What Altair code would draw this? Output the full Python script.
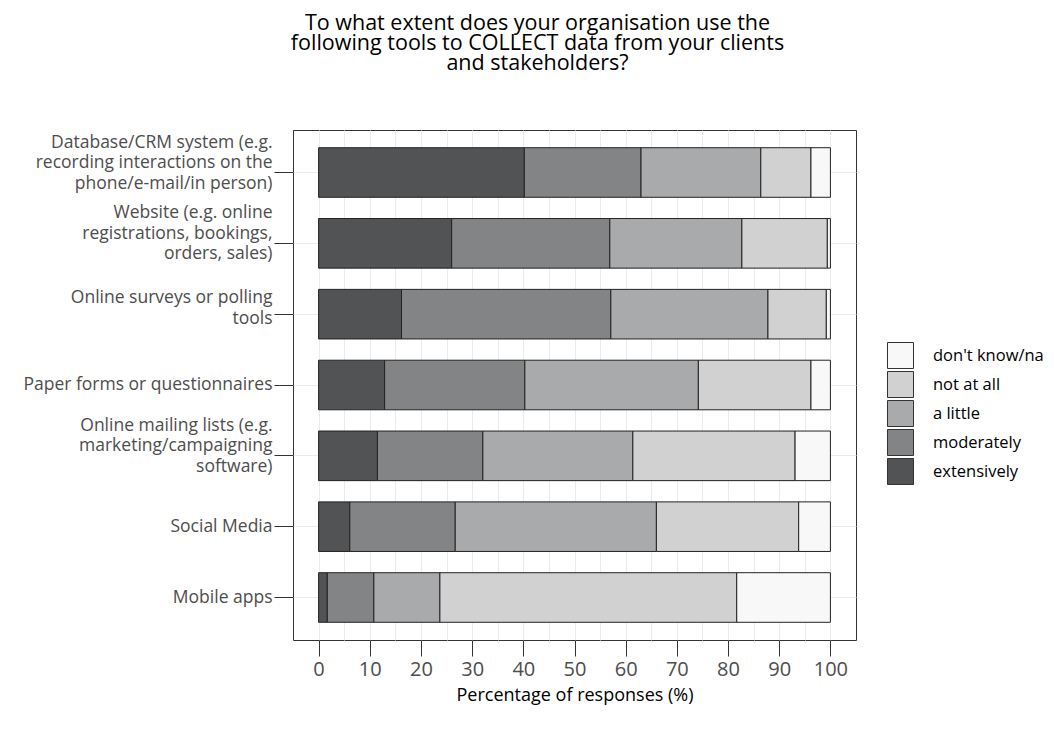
import altair as alt
import pandas as pd

categories = [
    "Database/CRM system (e.g.\nrecording interactions on the\nphone/e-mail/in person)",
    "Website (e.g. online\nregistrations, bookings,\norders, sales)",
    "Online surveys or polling\ntools",
    "Paper forms or questionnaires",
    "Online mailing lists (e.g.\nmarketing/campaigning\nsoftware)",
    "Social Media",
    "Mobile apps",
]
levels = ["extensively", "moderately", "a little", "not at all", "don't know/na"]
level_colors = ["#525355", "#838486", "#a9aaac", "#d1d1d1", "#f8f8f8"]

extensively = [40.2, 26.0, 16.2, 12.9, 11.5, 6.1, 1.7]
moderately = [22.8, 30.9, 40.9, 27.4, 20.6, 20.6, 9.1]
a_little = [23.4, 25.8, 30.7, 33.9, 29.3, 39.3, 12.9]
not_at_all = [9.8, 16.7, 11.4, 22.0, 31.7, 27.8, 58.0]
dont_know = [3.8, 0.6, 0.8, 3.8, 6.9, 6.2, 18.3]

x_ticks = list(range(0, 101, 5))

series = [extensively, moderately, a_little, not_at_all, dont_know]
rows = []
for li, (lvl, vals) in enumerate(zip(levels, series)):
    for c, v in zip(categories, vals):
        rows.append({"tool": c, "level": lvl, "value": v, "ord": li})
df = pd.DataFrame(rows)

FONT = "Open Sans"
LINE_H = 20.5

legend = alt.Legend(
    title=None, orient="none", legendX=594, legendY=212,
    symbolType="square", symbolSize=676, symbolStrokeColor="#333333",
    symbolStrokeWidth=1, symbolOpacity=1, labelFontSize=16.5, labelColor="#000000",
    labelFont=FONT, rowPadding=-4, labelOffset=19,
)

n_lines = "length(split(datum.label, '\\n'))"

chart = alt.Chart(df).mark_bar(stroke="#222222", strokeWidth=1, opacity=1).encode(
    x=alt.X(
        "value:Q", stack="zero",
        scale=alt.Scale(domain=[-5, 105], nice=False, zero=False),
        axis=alt.Axis(
            values=x_ticks,
            title="Percentage of responses (%)",
            titleFontSize=18, titleFontWeight="normal", titleColor="#000000",
            titleFont=FONT, titlePadding=7,
            labelFontSize=20, labelColor="#4d4d4d", labelPadding=3, labelFont=FONT,
            labelExpr="(datum.value % 10 === 0) ? datum.label : ''",
            tickOpacity={"condition": {"test": "datum.value % 10 !== 0", "value": 0}, "value": 1},
            tickColor="#333333", tickSize=16,
            grid=True, gridColor="#ebebeb", domain=False,
        ),
    ),
    y=alt.Y(
        "tool:N", sort=categories,
        scale=alt.Scale(paddingInner=0.3, paddingOuter=0.25),
        axis=alt.Axis(
            title=None, labelExpr="split(datum.label, '\\n')",
            labelFontSize=17.5, labelColor="#4d4d4d", labelLineHeight=LINE_H,
            labelOffset={
                "condition": [
                    {"test": n_lines + " === 3", "value": -30},
                    {"test": n_lines + " === 2", "value": -16},
                ],
                "value": 0,
            },
            labelFont=FONT, labelPadding=2, tickColor="#333333", tickSize=19,
            grid=True, gridColor="#ebebeb", domain=False, bandPosition=0.5,
            labelLimit=400,
        ),
    ),
    color=alt.Color(
        "level:N",
        scale=alt.Scale(domain=levels[::-1], range=level_colors[::-1]),
        legend=legend,
    ),
    order=alt.Order("ord:Q"),
).properties(
    width=563, height=510,
    title=alt.TitleParams(
        text=["To what extent does your organisation use the",
              "following tools to COLLECT data from your clients",
              "and stakeholders?"],
        font=FONT, fontSize=21.5, fontWeight="normal", color="#000000",
        anchor="middle", dx=-37, offset=56, lineHeight=20,
    ),
    autosize=alt.AutoSizeParams(type="none"),
    padding={"left": 285, "top": 122, "right": 190, "bottom": 86},
).configure(
    font=FONT,
).configure_view(
    stroke="#333333", strokeWidth=1,
)

chart.save("out.html", embed_options={"renderer": "svg", "actions": False})
